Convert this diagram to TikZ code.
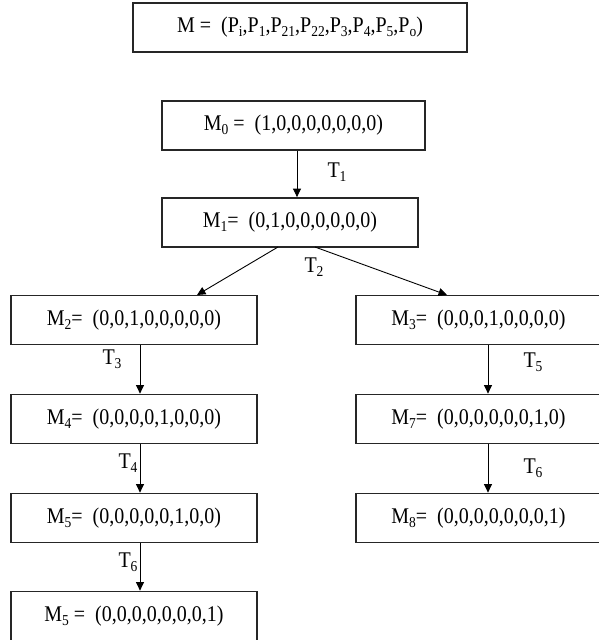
\documentclass[tikz,border=0pt]{standalone}
\usepackage{fontspec}
\usepackage{graphicx}
\setmainfont{Liberation Serif}
\usetikzlibrary{arrows.meta}
% lowered subscript in the text face
\newcommand{\sbs}[1]{\raisebox{-0.38ex}{\fontsize{13.5}{14}\selectfont #1}}
% slightly tall lettering
\newcommand{\tall}[1]{\scalebox{1}[1.12]{#1}}
\tikzset{
  state/.style={draw=black!85, line width=1.8pt, fill=white, inner sep=0pt,
    minimum height=49pt, font=\fontsize{20}{24}\selectfont},
  arr/.style={line width=0.9pt, -{Triangle[length=8.5pt,width=8pt]}},
  tlab/.style={font=\fontsize{20}{24}\selectfont, inner sep=0pt}
}
\begin{document}
\begin{tikzpicture}[x=1pt,y=1pt]
\useasboundingbox (0,0) rectangle (599,-640);
% marking vector definition
\node[state, minimum width=334pt] (def) at (300,-27.5)
  {\tall{M =\ \ (P\sbs{i},P\sbs{1},P\sbs{21},P\sbs{22},P\sbs{3},P\sbs{4},P\sbs{5},P\sbs{o})}};
% reachability tree
\node[state, minimum width=263pt] (m0) at (293.5,-125.5) {\tall{M\sbs{0} =\ \ (1,0,0,0,0,0,0,0)}};
\node[state, minimum width=256pt] (m1) at (290,-222.5) {\tall{M\sbs{1}=\ \ (0,1,0,0,0,0,0,0)}};
\node[state, minimum width=246pt] (m2) at (134,-320) {\tall{M\sbs{2}=\ \ (0,0,1,0,0,0,0,0)}};
\node[state, minimum width=246pt] (m4) at (134,-419) {\tall{M\sbs{4}=\ \ (0,0,0,0,1,0,0,0)}};
\node[state, minimum width=246pt] (m5) at (134,-518) {\tall{M\sbs{5}=\ \ (0,0,0,0,0,1,0,0)}};
\node[state, minimum width=246pt] (m5b) at (134,-616) {\tall{M\sbs{5} =\ \ (0,0,0,0,0,0,0,1)}};
\node[state, minimum width=245pt] (m3) at (478.5,-320) {\tall{M\sbs{3}=\ \ (0,0,0,1,0,0,0,0)}};
\node[state, minimum width=245pt] (m7) at (478.5,-419) {\tall{M\sbs{7}=\ \ (0,0,0,0,0,0,1,0)}};
\node[state, minimum width=245pt] (m8) at (478.5,-518) {\tall{M\sbs{8}=\ \ (0,0,0,0,0,0,0,1)}};
% arrow columns
\coordinate (xc) at (297,0);
\coordinate (xl) at (140,0);
\coordinate (xr) at (488,0);
\coordinate (m1a) at (278,-247);
\coordinate (m1b) at (315,-247);
\coordinate (m2t) at (197,-295);
\coordinate (m3t) at (447,-295);
\draw[arr] (m0.south -| xc) -- (m1.north -| xc);
\draw[arr] (m1a) -- (m2t);
\draw[arr] (m1b) -- (m3t);
\draw[arr] (m2.south -| xl) -- (m4.north -| xl);
\draw[arr] (m4.south -| xl) -- (m5.north -| xl);
\draw[arr] (m5.south -| xl) -- (m5b.north -| xl);
\draw[arr] (m3.south -| xr) -- (m7.north -| xr);
\draw[arr] (m7.south -| xr) -- (m8.north -| xr);
% transition labels
\node[tlab] (t1) at (337,-172) {\tall{T\sbs{1}}};
\node[tlab] (t2) at (314,-267) {\tall{T\sbs{2}}};
\node[tlab] (t3) at (112,-359) {\tall{T\sbs{3}}};
\node[tlab] (t4) at (128,-463) {\tall{T\sbs{4}}};
\node[tlab] (t6a) at (128,-562) {\tall{T\sbs{6}}};
\node[tlab] (t5) at (533,-362) {\tall{T\sbs{5}}};
\node[tlab] (t6b) at (533,-468) {\tall{T\sbs{6}}};
\end{tikzpicture}
\end{document}
